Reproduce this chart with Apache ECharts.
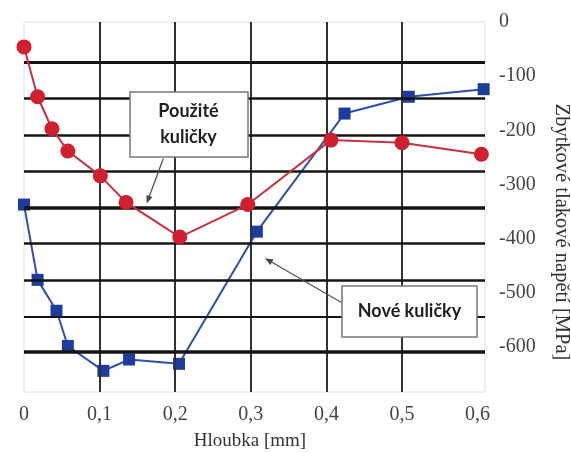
<!DOCTYPE html>
<html>
<head>
<meta charset="utf-8">
<script src="https://cdn.jsdelivr.net/npm/echarts@6/dist/echarts.min.js"></script>
<style>html,body{margin:0;padding:0;background:#fff;}#c{width:571px;height:453px;}</style>
</head>
<body>
<div id="c"></div>
<script>
// Data
const depthUsed  = [0, 0.018, 0.037, 0.058, 0.101, 0.135, 0.206, 0.296, 0.406, 0.500, 0.605];
const stressUsed = [-46, -138, -197, -238, -284, -333, -397, -337, -218, -223, -244];
const depthNew   = [0, 0.018, 0.043, 0.058, 0.105, 0.139, 0.205, 0.308, 0.424, 0.509, 0.608];
const stressNew  = [-337, -476, -533, -598, -644, -623, -631, -387, -169, -138, -124];
const xTicks = [0, 0.1, 0.2, 0.3, 0.4, 0.5, 0.6];
const yTicks = [0, -100, -200, -300, -400, -500, -600];
const xGridValues = [0.1, 0.2, 0.3, 0.4, 0.5];
const yGridValues = [-74, -141, -209, -276, -342, -409, -476, -544, -609];
const yGridWidths = [3, 2.5, 2.5, 2.5, 3.5, 2.5, 2.5, 2, 3.5];

const serif = '"Liberation Serif", "DejaVu Serif", serif';
const sans = 'Lato, "Open Sans", sans-serif';

const chart = echarts.init(document.getElementById('c'), null, {renderer: 'canvas'});

function zip(xs, ys) { return xs.map((x, i) => [x, ys[i]]); }

function arrow(x1, y1, x2, y2) {
  const ang = Math.atan2(y2 - y1, x2 - x1);
  const L = 8, W = 3.2;
  const bx = x2 - L * Math.cos(ang), by = y2 - L * Math.sin(ang);
  const px = -Math.sin(ang) * W, py = Math.cos(ang) * W;
  return [
    {type: 'line', z: 101, silent: true, shape: {x1: x1, y1: y1, x2: bx, y2: by}, style: {stroke: '#555', lineWidth: 1.3}},
    {type: 'polygon', z: 101, silent: true, shape: {points: [[x2, y2], [bx + px, by + py], [bx - px, by - py]]}, style: {fill: '#444'}}
  ];
}

const gridMarks = [];
xGridValues.forEach(v => gridMarks.push({xAxis: v, lineStyle: {color: '#30303c', width: 2, type: 'solid'}}));
yGridValues.forEach((v, i) => gridMarks.push({yAxis: v, lineStyle: {color: '#141414', width: yGridWidths[i], type: 'solid'}}));

const option = {
  animation: false,
  backgroundColor: '#fff',
  grid: {left: 24, top: 22, right: 86, bottom: 61, show: true, borderColor: '#e2e2e2', borderWidth: 1, backgroundColor: '#fff'},
  xAxis: {
    type: 'value', min: 0, max: 0.6098,
    axisLine: {show: false}, axisTick: {show: false}, splitLine: {show: false},
    axisLabel: {
      customValues: xTicks,
      formatter: v => v === 0 ? '0' : v.toFixed(1).replace('.', ','),
      fontFamily: serif, fontSize: 20, color: '#444', margin: 13
    }
  },
  yAxis: {
    type: 'value', position: 'right', min: -683, max: 0,
    axisLine: {show: false}, axisTick: {show: false}, splitLine: {show: false},
    axisLabel: {
      customValues: yTicks,
      fontFamily: serif, fontSize: 20, color: '#444', margin: 14
    }
  },
  series: [
    {
      type: 'line', data: [], z: 1, silent: true,
      markLine: {silent: true, symbol: ['none', 'none'], label: {show: false}, animation: false, data: gridMarks}
    },
    {
      name: 'Použité kuličky', type: 'line', z: 5,
      data: zip(depthUsed, stressUsed),
      symbol: 'circle', symbolSize: 15,
      itemStyle: {color: '#d01f2e'},
      lineStyle: {color: '#c8323f', width: 2}
    },
    {
      name: 'Nové kuličky', type: 'line', z: 4,
      data: zip(depthNew, stressNew),
      symbol: 'rect', symbolSize: 12,
      itemStyle: {color: '#1d3c9c'},
      lineStyle: {color: '#2f4fb0', width: 2}
    }
  ],
  graphic: [
    {type: 'text', z: 100, x: 250, y: 441.5, style: {text: 'Hloubka [mm]', font: '19px ' + serif, fill: '#333', align: 'center', verticalAlign: 'middle'}},
    {type: 'text', z: 100, x: 561.5, y: 232, rotation: -Math.PI / 2, style: {text: 'Zbytkové tlakové napětí [MPa]', font: '20.5px ' + serif, fill: '#333', align: 'center', verticalAlign: 'middle'}},
    {type: 'rect', z: 100, shape: {x: 130, y: 92, width: 118, height: 65}, style: {fill: '#fff', stroke: '#777', lineWidth: 1.5}},
    {type: 'text', z: 101, x: 188.5, y: 124, style: {text: 'Použité\nkuličky', font: 'bold 18px ' + sans, lineHeight: 26.5, fill: '#1f1f1f', align: 'center', verticalAlign: 'middle'}},
    {type: 'rect', z: 100, shape: {x: 342, y: 286, width: 135, height: 51}, style: {fill: '#fff', stroke: '#777', lineWidth: 1.5}},
    {type: 'text', z: 101, x: 409.5, y: 311.5, style: {text: 'Nové kuličky', font: 'bold 18px ' + sans, fill: '#1f1f1f', align: 'center', verticalAlign: 'middle'}}
  ].concat(arrow(163.3, 158.5, 146.7, 203.5)).concat(arrow(341.5, 302.5, 265, 258.3))
};
chart.setOption(option);
</script>
</body>
</html>
